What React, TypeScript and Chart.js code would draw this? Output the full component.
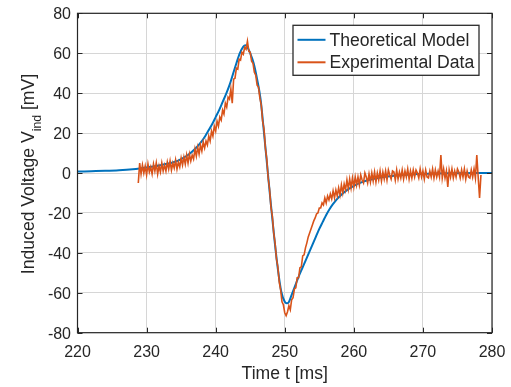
import React, { useEffect, useRef } from "react";
import { Chart, registerables } from "chart.js";

Chart.register(...registerables);

// ---------- data ----------
const theoryTime = [
  220, 222, 224, 226, 228, 229, 230, 231, 232, 233, 234, 235, 236, 237, 238, 238.5, 239, 239.5, 240, 240.5,
  241, 241.5, 242, 242.5, 243, 243.5, 244, 244.3, 244.6, 245, 245.5, 246, 246.5, 247, 247.5, 248, 248.5, 249,
  249.5, 250, 250.3, 250.6, 251, 251.5, 252, 252.5, 253, 253.5, 254, 254.5, 255, 255.5, 256, 256.5, 257, 257.5,
  258, 259, 260, 261, 262, 264, 266, 268, 270, 274, 280,
];
const theoryValue = [
  0.7, 0.9, 1.1, 1.4, 1.9, 2.3, 2.8, 3.3, 3.9, 4.6, 5.5, 7, 9, 12, 16, 18.5, 21.5, 24.5, 28, 31.5,
  35.5, 39.5, 44, 49.5, 55, 60, 63.3, 64, 63, 60, 55, 47, 37, 20, 2, -16, -33, -48,
  -59.5, -64.5, -65.3, -64.6, -61, -56.5, -52, -48, -44, -40, -36, -32, -28, -24.5, -21, -18, -15.5, -13.3,
  -11.5, -8.6, -6.4, -4.8, -3.6, -2.1, -1.3, -0.8, -0.4, -0.1, 0,
];

// experimental record: sampled every expStep ms starting at expStart
const expStart = 228.8;
const expStep = 0.2;
const expValues = [
  -5, 5, -0.5, 4, 0, 3.5, -1, 4.5, 0.5, 3,
  -0.5, 4.5, 1, 5, -0.5, 3.5, 0.5, 5, 1, 4,
  1, 5.5, 2, 6, 1.5, 5, 2.5, 6.5, 2, 5.5,
  3, 7.5, 4, 8, 4.5, 9, 5, 9.5, 6, 9,
  7, 12, 8.5, 13, 9.5, 14, 11, 15.5, 12.5, 16,
  14, 18.5, 16, 21, 18.5, 23.5, 21, 26, 23.5, 28,
  26.5, 31.5, 29.5, 35, 33, 38, 37, 42, 35, 47,
  47.5, 52.5, 52, 57, 56.5, 60.5, 59.5, 63, 62, 66,
  61, 60.5, 56, 55, 50.5, 49, 44, 43, 37.5, 34,
  26, 22, 12.5, 7, -2.5, -8, -17, -21.5, -30, -35,
  -43, -47, -54.5, -58.5, -64.5, -66, -70, -71.5, -69.5, -66.5,
  -68.5, -63.5, -62.5, -58, -57.5, -52.5, -52.5, -47.5, -47, -41.5,
  -41, -37.5, -35, -32, -30, -28, -26, -24, -22.5, -20.5,
  -20, -17.5, -17.5, -15, -16, -12.5, -15, -11.5, -13.5, -10.5,
  -13, -9, -12.5, -8.5, -11.5, -7.5, -11, -6, -10, -5.5,
  -8.5, -3.5, -8, -3, -7.5, -2.5, -7, -2, -6, -2,
  -6, -1, -3.5, -5, 0, -2, -5, -0.5, -4.5, 0,
  -4, 0.5, -4.5, 0, -3.5, 1, -4, 0.5, -3, 1,
  -3.5, 1.5, -1, -3, 1, 0.5, -3.5, 1.5, -3, 0.5,
  -2.5, 1.5, -3, 1, -2, 2, -3, 1, -2.5, 1.5,
  -2, 1.5, 0, -2.5, 2, -2, 1, -3, 1.5, -2,
  -2.5, 1, -2, 2, -2.5, 1.5, -2, 1, -2, 9,
  -2.5, 2, -2.5, 1, -7, 1.5, -2, 2, -2.5, 1,
  -2, 2, 0.5, -2.5, 1.5, -2, 2, -3, 1, -2,
  -2.5, 1.5, -2, 2, -2.5, 9, -2, -12.5, -1,
];

const xTicks = [220, 230, 240, 250, 260, 270, 280];
const yTicks = [-80, -60, -40, -20, 0, 20, 40, 60, 80];
const seriesLabels = ["Theoretical Model", "Experimental Data"];
const seriesColors = ["#0072BD", "#D95319"];
const xTitle = "Time t [ms]";
const yTitleMain = "Induced Voltage V";
const yTitleSub = "ind";
const yTitleUnit = " [mV]";

// ---------- styles ----------
const FONT = "'Liberation Sans', Arial, Helvetica, sans-serif";
const TEXT = "#262626";
const GRID = "#d6d6d6";

const framePlugin = {
  id: "matlabFrame",
  afterDatasetsDraw(chart: any) {
    const { ctx, chartArea: a, scales } = chart;
    ctx.save();
    // inward ticks
    ctx.strokeStyle = TEXT;
    ctx.lineWidth = 1;
    const tl = 5;
    ctx.beginPath();
    xTicks.forEach((v) => {
      const px = Math.round(scales.x.getPixelForValue(v)) + 0.5;
      ctx.moveTo(px, a.bottom);
      ctx.lineTo(px, a.bottom - tl);
      ctx.moveTo(px, a.top);
      ctx.lineTo(px, a.top + tl);
    });
    yTicks.forEach((v) => {
      const py = Math.round(scales.y.getPixelForValue(v)) + 0.5;
      ctx.moveTo(a.left, py);
      ctx.lineTo(a.left + tl, py);
      ctx.moveTo(a.right, py);
      ctx.lineTo(a.right - tl, py);
    });
    ctx.stroke();
    // box
    ctx.lineWidth = 1.2;
    ctx.strokeRect(a.left, a.top, a.right - a.left, a.bottom - a.top);

    // legend
    const lw = 186;
    const lh = 50;
    const lx = a.right - 13 - lw;
    const ly = a.top + 12;
    ctx.fillStyle = "#ffffff";
    ctx.fillRect(lx, ly, lw, lh);
    ctx.strokeStyle = "#2b2b2b";
    ctx.lineWidth = 1.3;
    ctx.strokeRect(lx, ly, lw, lh);
    const rows = [ly + 14.5, ly + 37];
    ctx.font = `17.6px ${FONT}`;
    ctx.textBaseline = "middle";
    ctx.textAlign = "left";
    seriesLabels.forEach((lab, i) => {
      ctx.strokeStyle = seriesColors[i];
      ctx.lineWidth = 2;
      ctx.beginPath();
      ctx.moveTo(lx + 4.5, rows[i]);
      ctx.lineTo(lx + 32.5, rows[i]);
      ctx.stroke();
      ctx.fillStyle = TEXT;
      ctx.fillText(lab, lx + 36.5, rows[i] + 1);
    });

    // x title
    ctx.fillStyle = TEXT;
    ctx.font = `17.6px ${FONT}`;
    ctx.textAlign = "center";
    ctx.textBaseline = "middle";
    ctx.fillText(xTitle, (a.left + a.right) / 2, 374);

    // y title with subscript
    const mainFont = `17.6px ${FONT}`;
    const subFont = `12.3px ${FONT}`;
    ctx.font = mainFont;
    const w1 = ctx.measureText(yTitleMain).width;
    const w3 = ctx.measureText(yTitleUnit).width;
    ctx.font = subFont;
    const w2 = ctx.measureText(yTitleSub).width;
    const total = w1 + w2 + w3;
    const cy = (a.top + a.bottom) / 2 + 1;
    ctx.translate(33.5, cy);
    ctx.rotate(-Math.PI / 2);
    ctx.textAlign = "left";
    ctx.textBaseline = "alphabetic";
    let x0 = -total / 2;
    ctx.font = mainFont;
    ctx.fillText(yTitleMain, x0, 0);
    x0 += w1;
    ctx.font = subFont;
    ctx.fillText(yTitleSub, x0, 7.5);
    x0 += w2;
    ctx.font = mainFont;
    ctx.fillText(yTitleUnit, x0, 0);
    ctx.restore();
  },
};

const zeroScalePadding = (s: any) => {
  s.paddingTop = 0;
  s.paddingBottom = 0;
  s.paddingLeft = 0;
  s.paddingRight = 0;
};

export default function App() {
  const ref = useRef<HTMLCanvasElement | null>(null);

  useEffect(() => {
    if (!ref.current) return;
    const theory = theoryTime.map((t, i) => ({ x: t, y: theoryValue[i] }));
    const exp = expValues.map((v, i) => ({ x: expStart + i * expStep, y: v }));
    const chart = new Chart(ref.current, {
      type: "line",
      data: {
        datasets: [
          {
            label: seriesLabels[0],
            data: theory,
            borderColor: seriesColors[0],
            borderWidth: 2,
            pointRadius: 0,
            cubicInterpolationMode: "monotone",
            fill: false,
            order: 1,
          },
          {
            label: seriesLabels[1],
            data: exp,
            borderColor: seriesColors[1],
            borderWidth: 1.6,
            pointRadius: 0,
            tension: 0,
            fill: false,
            order: 0,
          },
        ],
      },
      options: {
        animation: false,
        responsive: false,
        maintainAspectRatio: false,
        parsing: false as any,
        layout: { padding: { left: 0, right: 19, top: 13.3, bottom: 0 } },
        plugins: {
          legend: { display: false },
          tooltip: { enabled: false },
          title: { display: false },
        },
        scales: {
          x: {
            type: "linear",
            min: 220,
            max: 280,
            afterBuildTicks: (s: any) => {
              s.ticks = xTicks.map((v) => ({ value: v }));
            },
            afterFit: (s: any) => {
              s.height = 54.3;
              zeroScalePadding(s);
            },
            ticks: {
              font: { size: 16, family: FONT },
              color: TEXT,
              padding: 10.5,
              maxRotation: 0,
              autoSkip: false,
            },
            grid: { color: GRID, drawTicks: false, lineWidth: 1 },
            border: { display: false },
          },
          y: {
            type: "linear",
            min: -80,
            max: 80,
            afterBuildTicks: (s: any) => {
              s.ticks = yTicks.map((v) => ({ value: v }));
            },
            afterFit: (s: any) => {
              s.width = 77.5;
              zeroScalePadding(s);
            },
            ticks: {
              font: { size: 16, family: FONT },
              color: TEXT,
              padding: 6.5,
              labelOffset: 1.5,
              autoSkip: false,
            },
            grid: { color: GRID, drawTicks: false, lineWidth: 1 },
            border: { display: false },
          },
        },
      },
      plugins: [framePlugin],
    });
    return () => chart.destroy();
  }, []);

  return (
    <div
      style={{
        position: "fixed",
        left: 0,
        top: 0,
        width: 511,
        height: 387,
        background: "#ffffff",
      }}
    >
      <canvas ref={ref} width={511} height={387} style={{ display: "block", width: 511, height: 387 }} />
    </div>
  );
}
